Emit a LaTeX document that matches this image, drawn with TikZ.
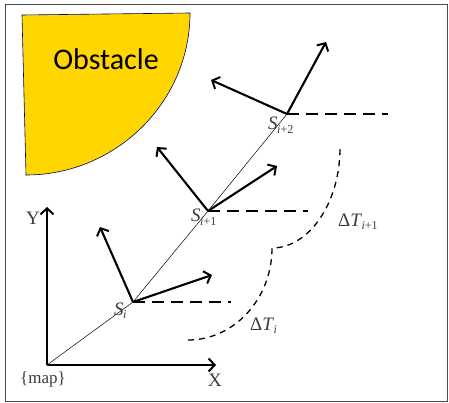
\documentclass[tikz,border=0pt]{standalone}
\usepackage{fontspec}
\setmainfont{Liberation Serif}
\newfontfamily\obsfont{Carlito}
\usetikzlibrary{arrows.meta}
\definecolor{obsyellow}{RGB}{255,214,0}
\definecolor{txtgray}{RGB}{60,60,60}
\newcommand\mysub[2]{#1\kern-0.5pt\raisebox{-0.45ex}{\fontsize{12}{12}\selectfont #2}}
\begin{document}
\begin{tikzpicture}[x=1pt,y=-1pt,
  tip/.style={-{Straight Barb[length=6pt,width=13pt,line width=2pt]}},
  vec/.style={tip,line width=2.1pt,black},
  axis/.style={tip,line width=2.4pt,black},
  hdash/.style={line width=2.3pt,dash pattern=on 12pt off 7pt},
  cdash/.style={line width=1.3pt,dash pattern=on 6pt off 5pt},
  lbl/.style={text=txtgray,font=\fontsize{19}{22}\selectfont,inner sep=0pt}]
\useasboundingbox (0,0) rectangle (449,403);
\draw[line width=1pt,black!70] (5,5) rectangle (447,401);
% obstacle
\draw[fill=obsyellow,draw=black!60!blue,line width=0.6pt]
  (22,15) -- (190,13) .. controls (190,102) and (116,175) .. (26,175) -- cycle;
\node[font=\obsfont\fontsize{30}{32}\selectfont] (obs) at (106,59) {Obstacle};
% points
\coordinate (O) at (47,365);
\coordinate (Si) at (133,302);
\coordinate (Sj) at (208,211);
\coordinate (Sk) at (287,114);
% axes
\coordinate (Yend) at (47,207);
\coordinate (Xend) at (216,365);
\draw[axis] (O) -- (Yend);
\draw[axis] (O) -- (Xend);
% path
\draw[line width=0.5pt] (O) -- (Si) -- (Sj) -- (Sk);
% vectors
\coordinate (a1) at (100,227);
\coordinate (a2) at (212,275);
\coordinate (b1) at (157,147);
\coordinate (b2) at (277,166);
\coordinate (c1) at (211,80);
\coordinate (c2) at (326,42);
\draw[vec] (Si) -- (a1);
\draw[vec] (Si) -- (a2);
\draw[vec] (Sj) -- (b1);
\draw[vec] (Sj) -- (b2);
\draw[vec] (Sk) -- (c1);
\draw[vec] (Sk) -- (c2);
% dashed horizontals
\coordinate (di) at (231,302);
\coordinate (dj) at (308,211);
\coordinate (dk) at (388,114);
\draw[hdash] (Si) -- (di);
\draw[hdash] (Sj) -- (dj);
\draw[hdash] (Sk) -- (dk);
% dashed curves
\coordinate (q0) at (188,340);
\coordinate (q1) at (272,248);
\coordinate (q2) at (340,148);
\draw[cdash] (q0) .. controls (234,340) and (272,299) .. (q1)
  .. controls (309,248) and (340,203) .. (q2);
% labels
\node[lbl,anchor=base west] (lSi) at (114,315) {\mysub{\textit{S}}{\textit{i}}};
\node[lbl,anchor=base west] (lSj) at (191,222) {\mysub{\textit{S}}{\textit{i}+1}};
\node[lbl,anchor=base west] (lSk) at (268,130) {\mysub{\textit{S}}{\textit{i}+2}};
\node[lbl,anchor=base west] (lTi) at (250,330) {\mysub{Δ\textit{T}}{\textit{i}}};
\node[lbl,anchor=base west] (lTj) at (338,226) {\mysub{Δ\textit{T}}{\textit{i}+1}};
\node[lbl,anchor=base west] (lY) at (26,225) {Y};
\node[lbl,anchor=base west] (lX) at (208,386) {X};
\node[lbl,anchor=base west,font=\fontsize{17}{20}\selectfont] (lmap) at (20,383) {\{map\}};
\end{tikzpicture}
\end{document}
